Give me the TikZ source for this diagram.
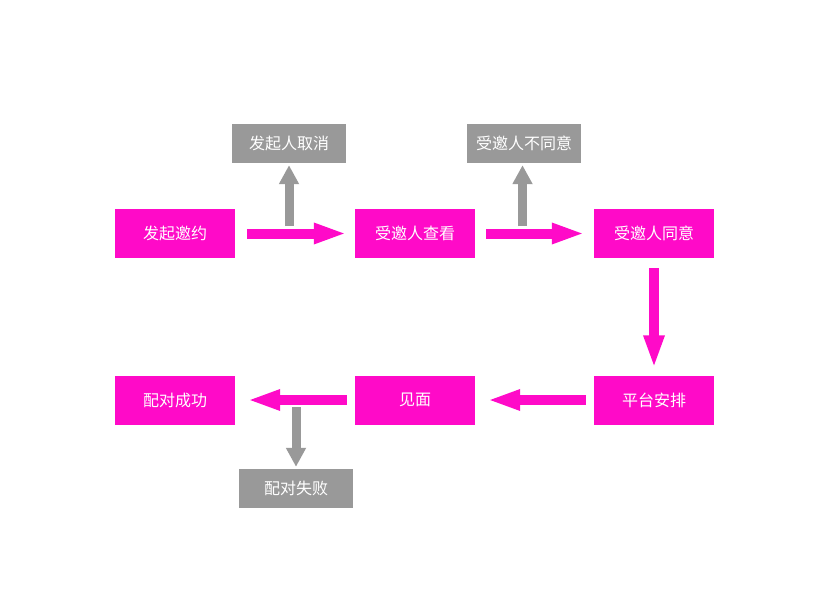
\documentclass[tikz,border=0pt]{standalone}
\usepackage{fontspec}
\newfontfamily\cjk{Noto Sans CJK SC}
\usetikzlibrary{arrows.meta}
\usetikzlibrary{calc}
\definecolor{flowpink}{RGB}{255,10,200}
\definecolor{flowgray}{RGB}{153,153,153}

\begin{document}
\begin{tikzpicture}[x=1pt,y=1pt,
	stepbox/.style={fill=flowpink,text=white,minimum width=120pt,minimum height=49pt,inner sep=0pt,font=\cjk\fontsize{16}{19}\selectfont},
	stopbox/.style={fill=flowgray,text=white,minimum width=114pt,minimum height=39pt,inner sep=0pt,font=\cjk\fontsize{16}{19}\selectfont},
	flow/.style={draw=flowpink,line width=10pt,-{Triangle[length=33pt,width=19pt]}},
	quit/.style={draw=flowgray,line width=9pt,-{Triangle[length=19pt,width=19pt]}}]
	\useasboundingbox (0,0) rectangle (840,590);
	\draw (175,356.5) node (faqi) [stepbox] {发起邀约};
	\draw (415,356.5) node (chakan) [stepbox] {受邀人查看};
	\draw (654,356.5) node (tongyi) [stepbox] {受邀人同意};
	\draw (654,190) node (anpai) [stepbox] {平台安排};
	\draw (415,190) node (jianmian) [stepbox] {见面};
	\draw (175,190) node (chenggong) [stepbox] {配对成功};
	\draw (289,446.5) node (quxiao) [stopbox] {发起人取消};
	\draw (524,446.5) node (jujue) [stopbox] {受邀人不同意};
	\draw (296,101.5) node (shibai) [stopbox] {配对失败};
	\coordinate (q1) at (quxiao.south |- faqi.east);
	\coordinate (q2) at ($(jujue.south |- chakan.east)+(-1.5,0)$);
	\coordinate (q3) at (shibai.north |- chenggong.east);
	\draw[quit,shorten <=7.5pt,shorten >=2pt] (q1) -- (quxiao);
	\draw[quit,shorten <=7.5pt,shorten >=2pt] (q2) -- ($(jujue.south)+(-1.5,0)$);
	\draw[quit,shorten <=7pt,shorten >=2pt] (q3) -- (shibai);
	\draw[flow,shorten <=12pt,shorten >=8pt] (faqi) -- (chakan);
	\draw[flow,shorten <=11pt,shorten >=9pt] (chakan) -- (tongyi);
	\draw[flow,shorten <=10pt,shorten >=7pt] (tongyi) -- (anpai);
	\draw[flow,shorten <=8pt,shorten >=12pt] (anpai) -- (jianmian);
	\draw[flow,shorten <=8pt,shorten >=12pt] (jianmian) -- (chenggong);
\end{tikzpicture}
\end{document}
